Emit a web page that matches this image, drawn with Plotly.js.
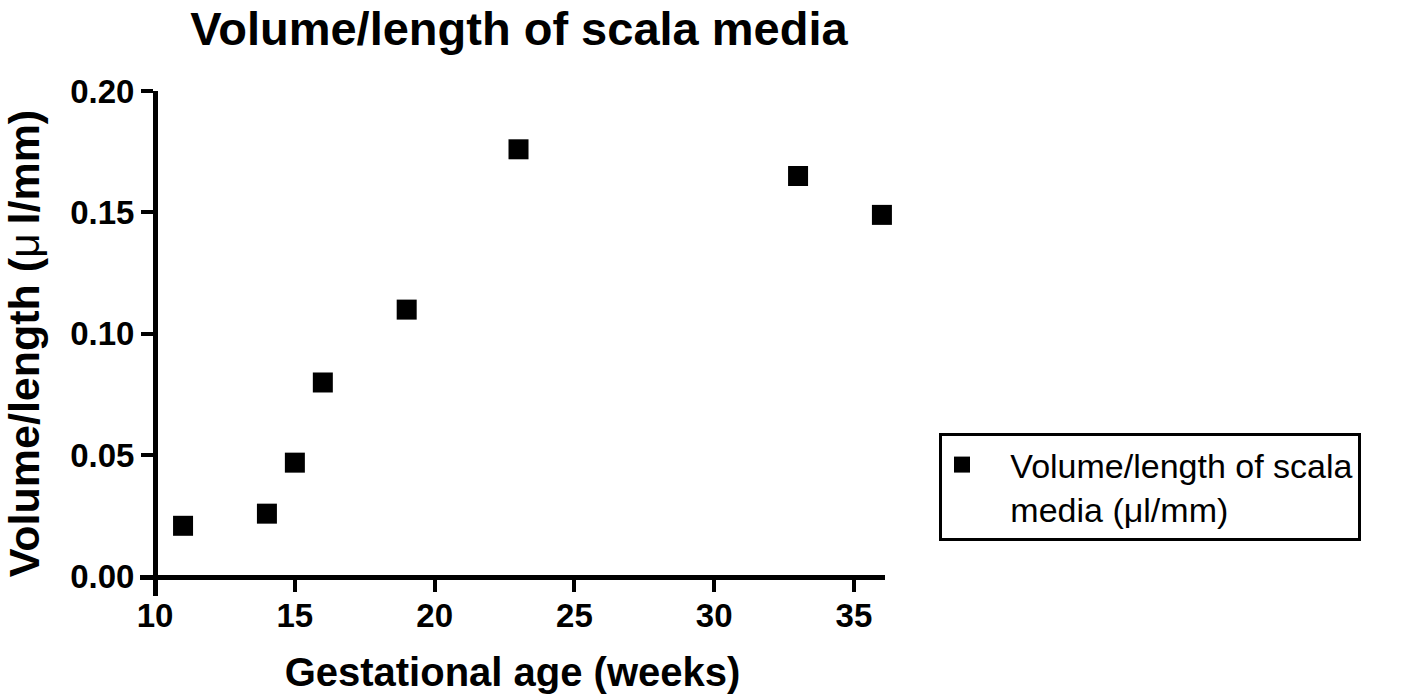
<!DOCTYPE html>
<html>
<head>
<meta charset="utf-8">
<script src="https://cdn.plot.ly/plotly-3.0.1.min.js"></script>
<style>html,body{margin:0;padding:0;background:#fff;}#chart{width:1418px;height:696px;}</style>
</head>
<body>
<div id="chart"></div>
<script>
// Data
const gestationalAgeWeeks = [11, 14, 15, 16, 19, 23, 33, 36];
const volumePerLength = [0.021, 0.026, 0.047, 0.080, 0.110, 0.176, 0.165, 0.149];
const xTickValues = [10, 15, 20, 25, 30, 35];
const yTickValues = [0.00, 0.05, 0.10, 0.15, 0.20];
const yTickLabels = ["0.00", "0.05", "0.10", "0.15", "0.20"];
const seriesNameLines = ["Volume/length of scala", "media (\u03bcl/mm)"];

const FONT = "Arial, 'Liberation Sans', sans-serif";
const xRange = [9.46, 36.11];
const yRange = [-0.0079, 0.2];
const indent = "\u00a0\u00a0\u00a0";

const trace = {
  type: "scatter",
  mode: "markers",
  x: gestationalAgeWeeks,
  y: volumePerLength,
  name: seriesNameLines.map(s => indent + s).join("<br>"),
  showlegend: true,
  cliponaxis: false,
  marker: {symbol: "square", size: 20, color: "#000", line: {width: 0}}
};

const layout = {
  width: 1418,
  height: 696,
  margin: {l: 140, r: 533, t: 91, b: 100, pad: 0},
  paper_bgcolor: "#fff",
  plot_bgcolor: "#fff",
  showlegend: true,
  title: {
    text: "Volume/length of scala media",
    font: {family: FONT, size: 47, weight: 700, color: "#000"},
    x: 0.366, xref: "container", xanchor: "center",
    y: 0.983, yref: "container", yanchor: "top"
  },
  xaxis: {
    range: xRange,
    anchor: "free",
    position: (0 - yRange[0]) / (yRange[1] - yRange[0]),
    tickvals: xTickValues,
    ticktext: xTickValues.map(String),
    ticks: "outside", ticklen: 12, tickwidth: 4, tickcolor: "#000",
    showline: true, linewidth: 5, linecolor: "#000",
    showgrid: false, zeroline: false,
    ticklabelstandoff: -4,
    tickfont: {family: FONT, size: 33, weight: 700, color: "#000"},
    title: {text: "Gestational age (weeks)", font: {family: FONT, size: 40, weight: 700, color: "#000"}, standoff: 24}
  },
  yaxis: {
    range: yRange,
    anchor: "free",
    position: (10 - xRange[0]) / (xRange[1] - xRange[0]),
    tickvals: yTickValues,
    ticktext: yTickLabels,
    ticks: "outside", ticklen: 12, tickwidth: 4, tickcolor: "#000",
    showline: true, linewidth: 5, linecolor: "#000",
    showgrid: false, zeroline: false,
    tickfont: {family: FONT, size: 33, weight: 700, color: "#000"},
    title: {text: "Volume/length (<span style=\"font-weight:normal\">\u03bc</span>\u2009l/mm)", font: {family: FONT, size: 43, weight: 700, color: "#000"}, standoff: 17}
  },
  legend: {
    x: 1.0725, xanchor: "left",
    y: 0.3228, yanchor: "top",
    bgcolor: "#fff",
    bordercolor: "#000", borderwidth: 3,
    font: {family: FONT, size: 34, color: "#000"},
    valign: "top",
    itemsizing: "trace"
  }
};

Plotly.newPlot("chart", [trace], layout, {displayModeBar: false, staticPlot: true});
</script>
</body>
</html>
